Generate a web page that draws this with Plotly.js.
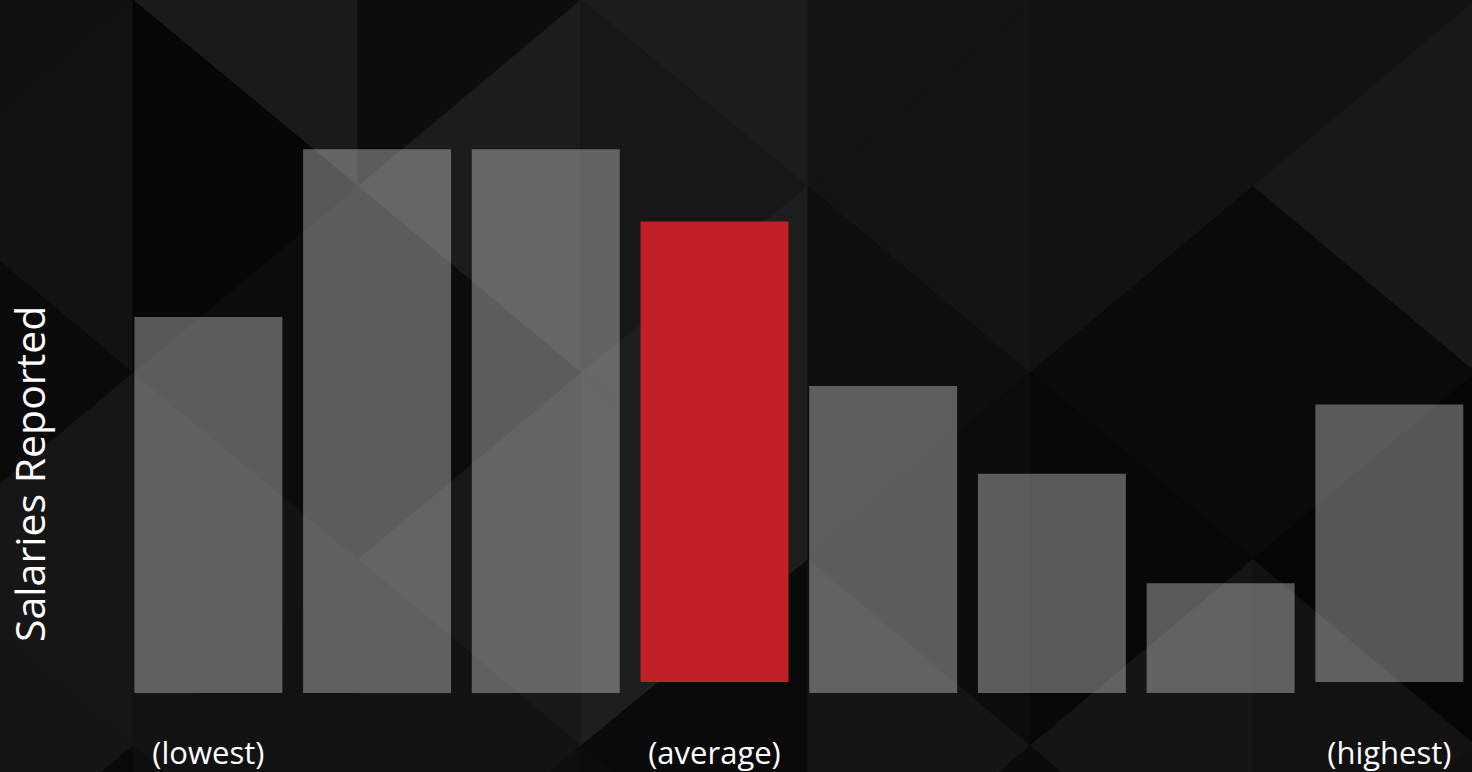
<!DOCTYPE html>
<html>
<head>
<meta charset="utf-8">
<script src="https://cdn.plot.ly/plotly-3.0.1.min.js"></script>
<style>
  html, body { margin: 0; padding: 0; background: #131313; }
  #chart { width: 1472px; height: 772px; }
</style>
</head>
<body>
<div id="chart"></div>
<script>
// ---- data ----
const binIndex = [0, 1, 2, 3, 4, 5, 6, 7];
const salariesReported = [34.3, 49.6, 49.6, 42, 28, 20, 10, 25.3];
const barBase = [0, 0, 0, 1, 0, 0, 0, 1];
const tickPositions = [0, 3, 7];
const tickLabels = ['(lowest)', '(average)', '(highest)'];
const averageBin = 3;
const yTitle = 'Salaries Reported';

// ---- styling ----
const W = 1472, H = 772;
const M = { l: 124, r: 0, t: 0, b: 79 };
const plotW = W - M.l - M.r, plotH = H - M.t - M.b;
const FONT = '"Open Sans", "DejaVu Sans", sans-serif';

const barColors = binIndex.map(i => i === averageBin ? '#c12026' : 'rgba(255,255,255,0.33)');

// decorative low-poly background (pixel lattice -> paper coords)
const latticeCols = [-90, 133, 358, 581, 808, 1030, 1253, 1476];
const rowStep = 186.5;
const shades = [
  [0x11, 0x12, 0x0a, 0x16, 0x15, 0x09],
  [0x1a, 0x06, 0x0c, 0x13, 0x12, 0x0f],
  [0x0d, 0x1c, 0x0c, 0x18, 0x13, 0x0e],
  [0x1c, 0x17, 0x1e, 0x1e, 0x0a, 0x0c],
  [0x15, 0x14, 0x0e, 0x0c, 0x15, 0x0b],
  [0x12, 0x12, 0x0a, 0x08, 0x15, 0x0b],
  [0x12, 0x18, 0x0a, 0x05, 0x12, 0x10]
];
function px(x) { return ((x - M.l) / plotW).toFixed(5); }
function py(y) { return ((H - M.b - y) / plotH).toFixed(5); }
function grey(v) { const h = v.toString(16).padStart(2, '0'); return '#' + h + h + h; }
const shapes = [];
for (let k = 0; k < 7; k++) {
  for (let j = 0; j < 6; j++) {
    const xl = latticeCols[k], xr = latticeCols[k + 1];
    let pts;
    if ((k + j) % 2 === 0) {
      pts = [[xl, (j - 1) * rowStep], [xl, (j + 1) * rowStep], [xr, j * rowStep]];
    } else {
      pts = [[xr, (j - 1) * rowStep], [xr, (j + 1) * rowStep], [xl, j * rowStep]];
    }
    const path = 'M ' + pts.map(p => px(p[0]) + ' ' + py(p[1])).join(' L ') + ' Z';
    const col = grey(shades[k][j]);
    shapes.push({
      type: 'path', path: path, xref: 'paper', yref: 'paper', layer: 'below',
      fillcolor: col, line: { color: col, width: 1 }
    });
  }
}

const trace = {
  type: 'bar',
  x: binIndex,
  y: salariesReported,
  base: barBase,
  marker: { color: barColors, line: { width: 0 } },
  hoverinfo: 'skip',
  cliponaxis: false
};

const layout = {
  width: W, height: H,
  margin: M,
  paper_bgcolor: '#131313',
  plot_bgcolor: 'rgba(0,0,0,0)',
  showlegend: false,
  bargap: 0.123,
  font: { family: FONT, color: '#ffffff' },
  xaxis: {
    range: [-0.5, 7.49],
    tickmode: 'array', tickvals: tickPositions, ticktext: tickLabels,
    ticks: '', showgrid: false, zeroline: false, showline: false,
    tickfont: { family: FONT, size: 31, color: '#ffffff' },
    ticklabelstandoff: 39,
    automargin: false, fixedrange: true
  },
  yaxis: {
    range: [0, 63.2],
    showticklabels: false, ticks: '', showgrid: false, zeroline: false, showline: false,
    automargin: false, fixedrange: true
  },
  shapes: shapes,
  annotations: [{
    text: yTitle, xref: 'paper', yref: 'paper',
    x: (29 - M.l) / plotW, y: (H - M.b - 474) / plotH,
    xanchor: 'center', yanchor: 'middle', textangle: -90, showarrow: false,
    font: { family: FONT, size: 41, color: '#ffffff' }
  }]
};

Plotly.newPlot('chart', [trace], layout, { displayModeBar: false, staticPlot: true });
</script>
</body>
</html>
